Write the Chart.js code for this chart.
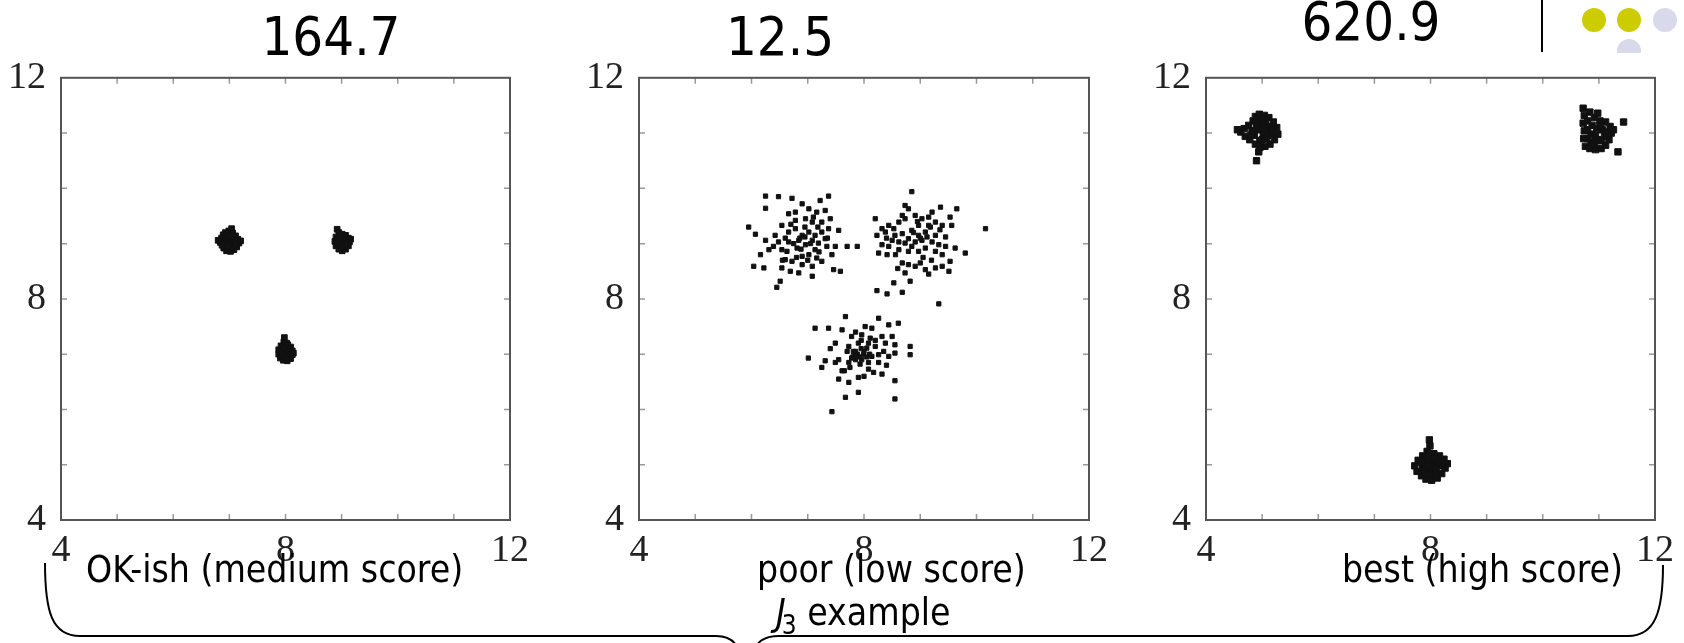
<!DOCTYPE html>
<html>
<head>
<meta charset="utf-8">
<script src="https://cdn.jsdelivr.net/npm/chart.js@4.4.1/dist/chart.umd.min.js"></script>
<style>
  html, body { margin: 0; padding: 0; background: #fff; }
  #page { position: relative; width: 1684px; height: 643px; overflow: hidden; background: #fff; }
  .panel { position: absolute; top: 40px; }
  #overlay { position: absolute; left: 0; top: 0; pointer-events: none; }
  .slide { font-family: 'DejaVu Sans Condensed', 'DejaVu Sans', sans-serif; font-stretch: condensed; fill: #000; }
</style>
</head>
<body>
<div id="page">
  <canvas id="p1" class="panel" width="540" height="560" style="left:0px"></canvas>
  <canvas id="p2" class="panel" width="541" height="560" style="left:578px"></canvas>
  <canvas id="p3" class="panel" width="540" height="560" style="left:1145px"></canvas>
  <svg id="overlay" width="1684" height="643" xmlns="http://www.w3.org/2000/svg">
    <defs>
      <clipPath id="dotClip"><rect x="1500" y="0" width="184" height="53"/></clipPath>
    </defs>
    <text class="slide" x="331" y="55" font-size="54" text-anchor="middle">164.7</text>
    <text class="slide" x="780" y="55" font-size="54" text-anchor="middle">12.5</text>
    <text class="slide" x="1371" y="40" font-size="54" text-anchor="middle">620.9</text>
    <line x1="1542" y1="0" x2="1542" y2="52" stroke="#000" stroke-width="2"/>
    <circle cx="1594" cy="20" r="12" fill="#cccc00"/>
    <circle cx="1629" cy="20" r="12" fill="#cccc00"/>
    <circle cx="1665" cy="20" r="12" fill="#d9d9ec"/>
    <circle cx="1629" cy="51" r="12" fill="#d9d9ec" clip-path="url(#dotClip)"/>
    <text class="slide" x="86" y="582" font-size="37">OK-ish (medium score)</text>
    <text class="slide" x="757" y="582" font-size="37">poor (low score)</text>
    <text class="slide" x="1623" y="582" font-size="37" text-anchor="end">best (high score)</text>
    <text class="slide" x="776" y="625" font-size="37"><tspan font-style="italic">J</tspan><tspan font-size="26" dx="-4" dy="9">3</tspan><tspan dy="-9"> example</tspan></text>
    <path d="M45,563 C45,612 52,636 80,636 L716,636 C726,636 732,639 736,645" fill="none" stroke="#000" stroke-width="2"/>
    <path d="M757,645 C761,639 767,636 779,636 L1628,636 C1655,636 1663,612 1663,565" fill="none" stroke="#000" stroke-width="2"/>
  </svg>
</div>
<script>
// axis values shared by the three panels
const axisMin = 4;
const axisMax = 12;
const majorStep = 4;
const minorTicks = [5, 6, 7, 8, 9, 10, 11];

// panel 1: medium score (three tight clusters)
const p1ClusterA = [[6.84,9.02],[6.86,9.10],[6.89,9.16],[6.93,9.20],[6.99,9.23],[7.04,9.27],[7.06,9.19],[7.11,9.14],[7.15,9.08],[7.17,9.01],[7.13,8.94],[7.08,8.89],[7.02,8.86],[6.95,8.87],[6.90,8.92],[6.87,8.97],[6.94,9.03],[7.00,9.08],[7.06,9.04],[7.01,8.98],[6.95,9.12],[7.09,9.09],[7.04,8.93],[6.92,8.99],[7.12,9.00],[6.98,9.16],[6.97,8.94],[7.03,9.14],[6.80,9.06],[7.20,9.05]];
const p1ClusterB = [[8.92,9.26],[8.95,9.20],[8.90,9.12],[8.88,9.04],[8.90,8.96],[8.95,8.90],[9.01,8.87],[9.07,8.90],[9.12,8.96],[9.14,9.03],[9.12,9.10],[9.07,9.15],[9.01,9.17],[8.96,9.10],[9.02,9.04],[8.96,9.00],[9.06,9.00],[9.03,9.11],[8.94,9.05],[9.09,9.06],[9.00,8.94],[8.98,9.14],[9.16,9.08]];
const p1ClusterC = [[7.98,7.30],[7.97,7.22],[7.92,7.15],[7.88,7.08],[7.88,7.00],[7.91,6.93],[7.96,6.89],[8.03,6.88],[8.09,6.92],[8.12,6.99],[8.12,7.06],[8.09,7.13],[8.04,7.17],[7.95,7.06],[8.02,7.01],[7.96,6.98],[8.05,7.08],[7.99,7.11],[8.06,6.97],[7.93,7.02],[8.00,6.94],[8.02,7.20],[8.14,7.02]];

// panel 2: low score (three loose clusters)
const p2ClusterA = [[6.25,9.86],[6.48,9.85],[6.72,9.82],[7.37,9.86],[7.22,9.78],[6.90,9.72],[6.25,9.64],[6.78,9.57],[7.02,9.63],[7.16,9.57],[7.31,9.60],[7.40,9.45],[5.95,9.30],[6.07,9.17],[6.25,9.06],[6.54,9.33],[6.66,9.21],[6.78,9.27],[6.90,9.15],[7.02,9.21],[7.13,9.15],[7.25,9.21],[7.37,9.27],[7.55,9.24],[6.39,8.95],[6.54,8.89],[6.66,9.03],[6.84,9.06],[6.96,8.98],[7.08,9.06],[7.19,9.01],[7.34,8.95],[7.49,8.95],[7.70,8.95],[7.88,8.95],[6.16,8.80],[6.60,8.71],[6.72,8.68],[6.90,8.77],[7.02,8.80],[7.16,8.74],[7.25,8.68],[7.43,8.80],[6.04,8.59],[6.22,8.56],[6.54,8.56],[6.69,8.50],[6.84,8.47],[7.08,8.41],[7.46,8.53],[7.58,8.50],[6.51,8.32],[6.45,8.21],[6.31,8.89],[6.42,9.15],[6.78,9.42],[6.96,9.45],[7.08,9.39],[7.25,9.39],[6.66,9.54],[6.48,9.03],[6.63,8.86],[7.31,9.09],[6.90,8.62],[7.08,8.59],[6.81,8.92],[7.13,8.89],[6.86,9.10],[6.95,9.12],[7.05,9.00],[6.75,9.00],[6.88,8.90],[7.18,9.30],[6.70,9.35],[7.00,8.70],[6.60,9.10],[7.20,8.85],[6.95,9.30],[7.10,9.48],[6.55,8.70],[7.35,9.10],[6.80,8.75]];
const p2ClusterB = [[8.85,9.94],[8.73,9.69],[8.79,9.63],[9.36,9.66],[9.65,9.63],[9.53,9.48],[8.20,9.45],[8.44,9.33],[8.62,9.39],[8.73,9.45],[8.91,9.51],[9.03,9.45],[9.15,9.48],[9.27,9.39],[9.39,9.33],[9.56,9.33],[8.23,9.15],[8.38,9.21],[8.53,9.27],[8.68,9.18],[8.85,9.24],[8.97,9.15],[9.09,9.21],[9.27,9.15],[9.45,9.12],[9.62,8.92],[9.80,8.83],[10.16,9.27],[8.32,8.98],[8.44,8.95],[8.62,9.03],[8.73,9.01],[8.91,9.03],[9.03,9.06],[9.21,9.03],[9.33,8.98],[8.26,8.83],[8.41,8.80],[8.56,8.80],[8.79,8.86],[8.97,8.86],[9.09,8.92],[8.68,8.65],[8.79,8.62],[8.91,8.59],[9.09,8.53],[9.27,8.56],[9.39,8.59],[9.51,8.50],[9.53,8.68],[8.73,8.47],[8.82,8.32],[8.53,8.29],[8.23,8.15],[8.41,8.09],[8.68,8.12],[9.33,7.91],[9.15,9.33],[8.79,9.09],[8.50,9.06],[8.62,8.89],[9.27,8.86],[8.68,9.51],[8.97,9.33],[9.21,9.57],[8.32,9.27],[9.39,8.80],[9.00,9.10],[9.12,9.12],[8.88,9.20],[9.18,9.30],[8.85,8.95],[9.05,8.75],[9.20,8.70],[8.55,9.15],[9.35,9.25],[8.95,9.40],[8.40,9.10],[9.45,8.95],[9.15,8.45],[8.60,8.55],[9.00,8.65]];
const p2ClusterC = [[7.67,7.68],[8.26,7.65],[8.44,7.53],[8.61,7.56],[7.13,7.47],[7.37,7.47],[7.61,7.44],[8.02,7.50],[8.14,7.47],[7.78,7.32],[7.96,7.35],[8.11,7.29],[8.32,7.32],[8.50,7.32],[7.49,7.20],[7.73,7.14],[7.90,7.20],[8.08,7.20],[8.20,7.14],[8.38,7.20],[8.55,7.17],[8.82,7.14],[7.01,6.93],[7.31,6.88],[7.55,6.90],[7.78,6.93],[7.84,6.99],[7.99,6.99],[8.14,6.96],[8.26,6.99],[8.44,6.96],[8.55,7.02],[8.82,6.99],[7.25,6.76],[7.49,6.85],[7.61,6.70],[7.75,6.76],[7.93,6.82],[8.08,6.73],[8.17,6.67],[8.32,6.64],[8.55,6.52],[7.55,6.55],[7.73,6.49],[7.90,6.58],[7.67,6.22],[7.90,6.31],[8.55,6.19],[7.43,5.96],[7.81,7.05],[8.05,7.11],[8.26,6.85],[7.96,6.90],[7.73,6.85],[8.08,6.85],[7.88,7.00],[7.92,6.95],[8.00,7.05],[7.85,6.90],[8.10,7.00],[7.95,7.10],[7.85,7.05],[7.80,6.95],[8.05,6.95],[7.95,7.25],[8.20,7.25],[7.70,7.05],[8.35,7.05],[7.65,6.70],[8.00,6.60],[8.40,6.80],[7.40,7.10],[7.85,7.40]];

// panel 3: high score (three far-apart clusters)
const p3ClusterA = [[4.62,11.02],[4.68,11.08],[4.70,10.94],[4.76,11.14],[4.78,10.88],[4.84,11.22],[4.88,11.30],[4.95,11.34],[5.04,11.32],[5.12,11.28],[5.20,11.20],[5.26,11.10],[5.28,10.98],[5.22,10.88],[5.14,10.80],[5.05,10.76],[4.96,10.74],[4.88,10.80],[4.86,10.96],[4.94,11.06],[5.02,11.00],[5.10,11.04],[4.98,11.16],[5.08,10.90],[4.82,11.04],[5.16,11.12],[5.00,10.88],[5.06,11.18],[4.92,11.22],[4.94,10.66],[4.90,10.50],[4.56,11.06],[4.90,11.10],[5.00,11.20],[5.10,10.96],[4.80,10.96],[5.18,11.00],[4.96,10.86],[5.04,11.08]];
const p3ClusterB = [[10.72,11.45],[10.74,11.32],[10.72,11.18],[10.74,11.04],[10.73,10.90],[10.76,10.76],[10.84,10.72],[10.94,10.70],[11.04,10.72],[11.12,10.78],[11.18,10.88],[11.22,11.00],[11.20,11.12],[11.12,11.20],[11.02,11.22],[10.92,11.28],[10.84,11.38],[10.88,11.14],[10.86,10.98],[10.96,11.08],[11.06,11.06],[11.10,10.94],[10.98,10.88],[10.86,10.84],[10.98,11.36],[11.44,11.20],[11.34,10.66],[11.26,11.06],[10.80,11.22],[10.80,11.06],[10.80,10.90],[10.92,10.78],[11.04,10.86],[11.14,11.02],[10.94,10.96],[11.02,11.14]];
const p3ClusterC = [[7.98,5.45],[7.99,5.34],[7.94,5.24],[7.86,5.16],[7.78,5.08],[7.72,4.98],[7.76,4.88],[7.84,4.80],[7.92,4.74],[8.02,4.72],[8.12,4.76],[8.20,4.84],[8.26,4.94],[8.30,5.02],[8.24,5.10],[8.16,5.16],[8.06,5.20],[7.90,5.04],[8.00,5.08],[8.10,5.00],[7.96,4.90],[8.08,4.86],[7.86,4.94],[8.18,4.98],[8.02,4.96],[7.94,5.12],[8.12,5.10],[7.88,4.84],[7.84,5.04],[7.90,4.92],[8.00,4.82],[8.10,4.92],[8.20,5.06],[8.06,5.12],[7.96,5.00]];

// box around the plot plus small inward ticks on all four sides
const framePlugin = {
  id: 'frame',
  beforeDatasetsDraw(chart) {
    const { ctx, chartArea: a } = chart;
    const x = chart.scales.x;
    const y = chart.scales.y;
    ctx.save();
    ctx.strokeStyle = '#999';
    ctx.lineWidth = 1.5;
    ctx.beginPath();
    minorTicks.forEach(v => {
      const px = x.getPixelForValue(v);
      const py = y.getPixelForValue(v);
      ctx.moveTo(px, a.bottom); ctx.lineTo(px, a.bottom - 6);
      ctx.moveTo(px, a.top); ctx.lineTo(px, a.top + 6);
      ctx.moveTo(a.left, py); ctx.lineTo(a.left + 6, py);
      ctx.moveTo(a.right, py); ctx.lineTo(a.right - 6, py);
    });
    ctx.stroke();
    ctx.strokeStyle = '#555';
    ctx.lineWidth = 2;
    ctx.strokeRect(a.left, a.top, a.right - a.left, a.bottom - a.top);
    ctx.restore();
  }
};

function toPoints(list) {
  return list.map(p => ({ x: p[0], y: p[1] }));
}

function makeDataset(list, radius) {
  return {
    data: toPoints(list),
    pointStyle: 'rect',
    pointRadius: radius,
    pointBackgroundColor: '#111',
    pointBorderColor: '#111',
    pointBorderWidth: 1
  };
}

const tickFont = { family: 'Liberation Serif', size: 38 };

function makePanel(id, clusters, radius) {
  new Chart(document.getElementById(id), {
    type: 'scatter',
    data: { datasets: clusters.map(c => makeDataset(c, radius)) },
    options: {
      responsive: false,
      animation: false,
      layout: { padding: { left: 0, right: 30, top: 30, bottom: 0 } },
      scales: {
        x: {
          type: 'linear',
          min: axisMin,
          max: axisMax,
          grid: { display: false, drawTicks: false },
          border: { display: false },
          ticks: { stepSize: majorStep, color: '#222', font: tickFont, padding: 8, maxRotation: 0 },
          afterFit: s => { s.height = 80; }
        },
        y: {
          type: 'linear',
          min: axisMin,
          max: axisMax,
          grid: { display: false, drawTicks: false },
          border: { display: false },
          ticks: { stepSize: majorStep, color: '#222', font: tickFont, padding: 15 },
          afterFit: s => { s.width = 61; }
        }
      },
      plugins: {
        legend: { display: false },
        tooltip: { enabled: false }
      }
    },
    plugins: [framePlugin]
  });
}

makePanel('p1', [p1ClusterA, p1ClusterB, p1ClusterC], 4);
makePanel('p2', [p2ClusterA, p2ClusterB, p2ClusterC], 3);
makePanel('p3', [p3ClusterA, p3ClusterB, p3ClusterC], 4.5);
</script>
</body>
</html>
